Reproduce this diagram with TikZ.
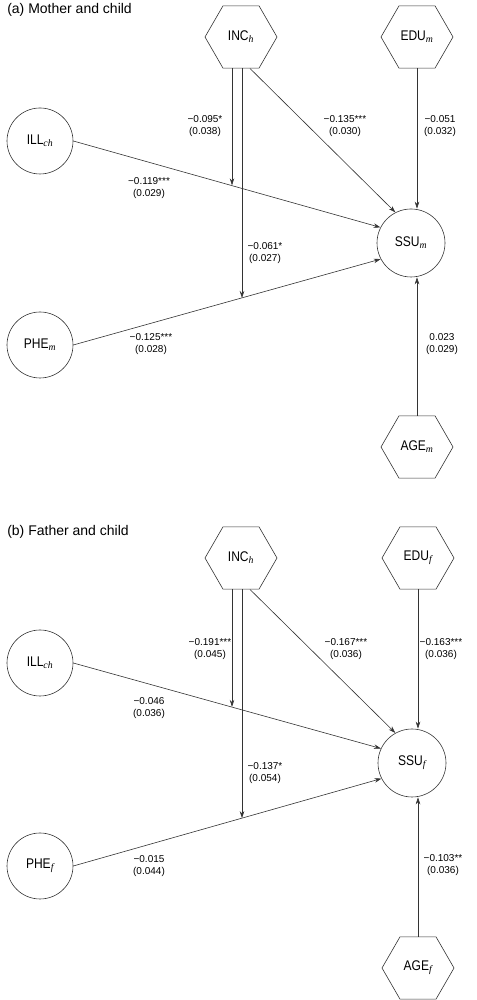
\documentclass[tikz,border=0pt]{standalone}
\usepackage{fontspec}
\setmainfont{Liberation Sans}
\newfontfamily\nodefont{Liberation Sans}[FakeStretch=0.86]
\newfontfamily\subserif{Liberation Serif}
\newcommand\sbs[1]{\textsubscript{\subserif\itshape #1}}
\usetikzlibrary{shapes.geometric,arrows.meta,calc}
\begin{document}
\begin{tikzpicture}[x=1pt,y=1pt,
  line width=0.6pt, draw=black!80,
  var/.style={circle,draw,minimum size=66pt,inner sep=0pt,font=\nodefont\fontsize{14}{16}\selectfont},
  outc/.style={circle,draw,minimum size=68pt,inner sep=0pt,font=\nodefont\fontsize{14}{16}\selectfont},
  hexa/.style={regular polygon,regular polygon sides=6,draw,minimum size=72pt,inner sep=0pt,font=\nodefont\fontsize{14}{16}\selectfont},
  coef/.style={align=center,inner sep=0pt,font=\fontsize{10}{12.5}\selectfont},
  ttl/.style={anchor=west,inner sep=0pt,font=\fontsize{14}{16}\selectfont},
  arr/.style={-{Stealth[length=7pt,width=4.5pt]}}]
\useasboundingbox (0,0) rectangle (476,1000);

% ---------- (a) Mother and child ----------
\node[ttl] (ta) at (7,990) {(a) Mother and child};
\node[hexa] (inca) at (241,963) {INC\sbs{h}};
\node[hexa] (edua) at (417,963) {EDU\sbs{m}};
\node[var] (illa) at (40,859) {ILL\sbs{ch}};
\node[outc] (ssua) at (411,757) {SSU\sbs{m}};
\node[var] (phea) at (40,655) {PHE\sbs{m}};
\node[hexa] (agea) at (417,553) {AGE\sbs{m}};

\coordinate (sa1) at ($(inca.south)+(-9,0)$);
\coordinate (sa2) at ($(inca.south)+(1,0)$);
\coordinate (sa3) at ($(inca.south)+(9,0)$);

\draw[arr] (illa.east) -- (ssua.153) coordinate[pos=0.513] (ma1);
\draw[arr] (phea.east) -- (ssua.208) coordinate[pos=0.547] (ma2);
\draw[arr] (sa3) -- (ssua.117);
\draw[arr] (edua.south) -- (edua.south |- ssua.north);
\draw[arr] (agea.north) -- (agea.north |- ssua.south);
\draw[arr] (sa1) -- (sa1 |- ma1);
\draw[arr] (sa2) -- (sa2 |- ma2);

\node[coef] (a1) at (205,874) {−0.095*\\(0.038)};
\node[coef] (a2) at (345,874) {−0.135***\\(0.030)};
\node[coef] (a3) at (440,874) {−0.051\\(0.032)};
\node[coef] (a4) at (149,812) {−0.119***\\(0.029)};
\node[coef] (a5) at (265,747) {−0.061*\\(0.027)};
\node[coef] (a6) at (151,656) {−0.125***\\(0.028)};
\node[coef] (a7) at (442,656) {0.023\\(0.029)};

% ---------- (b) Father and child ----------
\node[ttl] (tb) at (7,468) {(b) Father and child};
\node[hexa] (incb) at (241,442) {INC\sbs{h}};
\node[hexa] (edub) at (418,442) {EDU\sbs{f}};
\node[var] (illb) at (40,337) {ILL\sbs{ch}};
\node[outc] (ssub) at (412,237) {SSU\sbs{f}};
\node[var] (pheb) at (40,134) {PHE\sbs{f}};
\node[hexa] (ageb) at (418,32) {AGE\sbs{f}};

\coordinate (sb1) at ($(incb.south)+(-9,0)$);
\coordinate (sb2) at ($(incb.south)+(1,0)$);
\coordinate (sb3) at ($(incb.south)+(9,0)$);

\draw[arr] (illb.east) -- (ssub.155) coordinate[pos=0.513] (mb1);
\draw[arr] (pheb.east) -- (ssub.207) coordinate[pos=0.547] (mb2);
\draw[arr] (sb3) -- (ssub.119);
\draw[arr] (edub.south) -- (edub.south |- ssub.north);
\draw[arr] (ageb.north) -- (ageb.north |- ssub.south);
\draw[arr] (sb1) -- (sb1 |- mb1);
\draw[arr] (sb2) -- (sb2 |- mb2);

\node[coef] (b1) at (210,351) {−0.191***\\(0.045)};
\node[coef] (b2) at (346,351) {−0.167***\\(0.036)};
\node[coef] (b3) at (441,351) {−0.163***\\(0.036)};
\node[coef] (b4) at (149,292) {−0.046\\(0.036)};
\node[coef] (b5) at (265,227) {−0.137*\\(0.054)};
\node[coef] (b6) at (149,134) {−0.015\\(0.044)};
\node[coef] (b7) at (443,135) {−0.103**\\(0.036)};
\end{tikzpicture}
\end{document}
